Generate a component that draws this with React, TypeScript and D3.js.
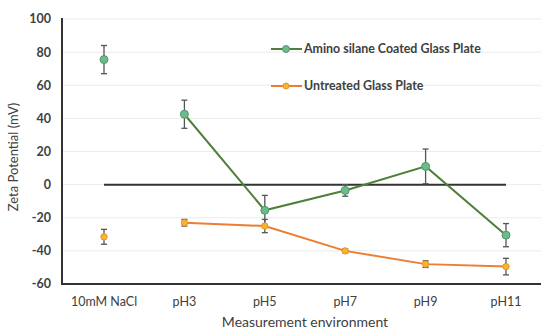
import React from "react";
import * as d3 from "d3";

const categories = ["10mM NaCl", "pH3", "pH5", "pH7", "pH9", "pH11"];
const aminoValues = [75.5, 42.5, -15.5, -3.5, 11, -30.5];
const aminoErrors = [8.5, 8.5, 9, 3.5, 10.5, 7];
const untreatedValues = [-31.5, -23, -25, -40, -48, -49.5];
const untreatedErrors = [4.5, 2, 4, 1.2, 2, 5];
const yTicks = [-60, -40, -20, 0, 20, 40, 60, 80, 100];

const W = 541, H = 332;
const FONT = "Lato, 'Open Sans', sans-serif";

export default function App() {
  const x = d3.scalePoint<string>().domain(categories).range([104, 506]);
  const y = d3.scaleLinear().domain([-60, 100]).range([284, 19]);
  const line = d3.line<number>().x((_, i) => x(categories[i + 1])!).y((d) => y(d));

  const series = [
    { name: "Amino silane Coated Glass Plate", vals: aminoValues, errs: aminoErrors, line: "#4f7f3a", fill: "#6dbb8a", stroke: "#4f9a6a" },
    { name: "Untreated Glass Plate", vals: untreatedValues, errs: untreatedErrors, line: "#ed7d31", fill: "#f7b52c", stroke: "#e8952a" },
  ];

  return (
    <svg width={W} height={H} style={{ position: "absolute", left: 0, top: 0 }}>
      <rect width={W} height={H} fill="#fff" />
      {yTicks.map((t) => (
        <g key={t}>
          <line x1={62} x2={541} y1={y(t)} y2={y(t)} stroke="#ebebeb" strokeWidth={1} />
          <text x={51} y={y(t)} dy="0.35em" textAnchor="end" fontFamily={FONT} fontSize={12.5} fontWeight="bold" fill="#404040">{t}</text>
        </g>
      ))}
      <line x1={62} x2={62} y1={18} y2={285} stroke="#333" strokeWidth={2} />
      <line x1={61} x2={541} y1={284} y2={284} stroke="#333" strokeWidth={2} />
      <line x1={x(categories[0])} x2={x(categories[categories.length - 1])} y1={y(0)} y2={y(0)} stroke="#333" strokeWidth={2} />
      {categories.map((c) => (
        <text key={c} x={x(c)} y={302} dy="0.35em" textAnchor="middle" fontFamily={FONT} fontSize={12.5} fill="#404040">{c}</text>
      ))}
      <text x={305} y={327} textAnchor="middle" fontFamily={FONT} fontSize={14} fill="#404040">Measurement environment</text>
      <text transform={`translate(18,157) rotate(-90)`} textAnchor="middle" fontFamily={FONT} fontSize={13} fill="#404040">Zeta Potential (mV)</text>
      {series.map((s) => (
        <g key={s.name}>
          <path d={line(s.vals.slice(1)) || ""} fill="none" stroke={s.line} strokeWidth={2} />
          {s.vals.map((v, i) => {
            const cx = x(categories[i])!;
            return (
              <g key={i}>
                <line x1={cx} x2={cx} y1={y(v + s.errs[i])} y2={y(v - s.errs[i])} stroke="#555" strokeWidth={1.3} />
                <line x1={cx - 3} x2={cx + 3} y1={y(v + s.errs[i])} y2={y(v + s.errs[i])} stroke="#555" strokeWidth={1.3} />
                <line x1={cx - 3} x2={cx + 3} y1={y(v - s.errs[i])} y2={y(v - s.errs[i])} stroke="#555" strokeWidth={1.3} />
                <circle cx={cx} cy={y(v)} r={s === series[0] ? 4 : 3.2} fill={s.fill} stroke={s.stroke} strokeWidth={1} />
              </g>
            );
          })}
        </g>
      ))}
      {series.map((s, i) => {
        const ly = i === 0 ? 49 : 86;
        return (
          <g key={s.name}>
            <line x1={271} x2={302} y1={ly} y2={ly} stroke={s.line} strokeWidth={2} />
            <circle cx={286} cy={ly} r={i === 0 ? 3.5 : 3} fill={s.fill} stroke={s.stroke} />
            <text x={304} y={ly} dy="0.35em" fontFamily={FONT} fontSize={12.4} fontWeight="bold" fill="#404040">{s.name}</text>
          </g>
        );
      })}
    </svg>
  );
}
